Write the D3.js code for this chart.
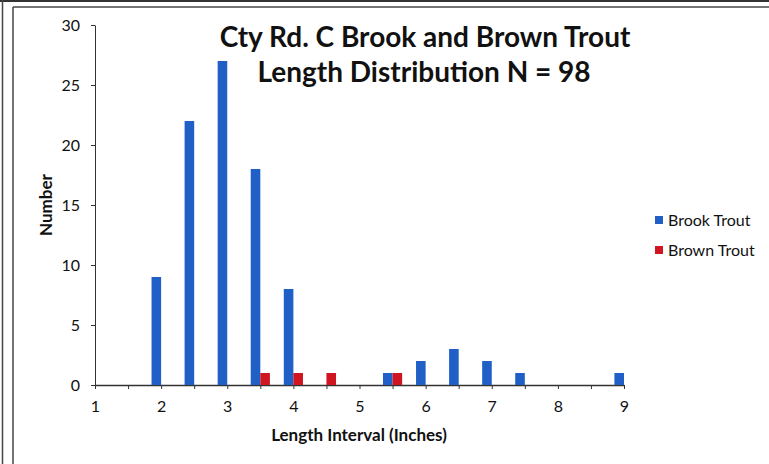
<!DOCTYPE html>
<html>
<head>
<meta charset="utf-8">
<script src="https://cdn.jsdelivr.net/npm/d3@7"></script>
<style>
  html, body { margin: 0; padding: 0; background: #fff; }
  svg { display: block; }
</style>
</head>
<body>
<svg id="chart" width="769" height="464"></svg>
<script>
// Data
const brookIntervals = [2, 2.5, 3, 3.5, 4, 5.5, 6, 6.5, 7, 7.5, 9];
const brookCounts    = [9, 22, 27, 18, 8, 1, 2, 3, 2, 1, 1];
const brownIntervals = [3.5, 4, 4.5, 5.5];
const brownCounts    = [1, 1, 1, 1];
const xTickValues = [1, 1.5, 2, 2.5, 3, 3.5, 4, 4.5, 5, 5.5, 6, 6.5, 7, 7.5, 8, 8.5, 9];
const xTickLabels = [1, 2, 3, 4, 5, 6, 7, 8, 9];
const yTickValues = [0, 5, 10, 15, 20, 25, 30];
const seriesNames = ["Brook Trout", "Brown Trout"];
const seriesColors = ["#1f5fc6", "#cf1422"];
const titleLines = ["Cty Rd. C Brook and Brown Trout", "Length Distribution N = 98"];

const svg = d3.select("#chart");
const FONT = "Lato, 'Open Sans', sans-serif";

// Frame
svg.append("rect").attr("x", 0).attr("y", 0).attr("width", 769).attr("height", 2).attr("fill", "#333");
svg.append("line").attr("x1", 2.5).attr("x2", 2.5).attr("y1", 0).attr("y2", 464).attr("stroke", "#444").attr("stroke-width", 1.5);
svg.append("line").attr("x1", 13).attr("x2", 769).attr("y1", 7).attr("y2", 7).attr("stroke", "#444").attr("stroke-width", 1.5);
svg.append("line").attr("x1", 13).attr("x2", 13).attr("y1", 7).attr("y2", 464).attr("stroke", "#444").attr("stroke-width", 1.5);

const x = d3.scaleLinear().domain([1, 9]).range([95, 624]);
const y = d3.scaleLinear().domain([0, 30]).range([385, 25]);
const bw = x(1.145) - x(1);

// Y axis
const yAxis = d3.axisLeft(y).tickValues(yTickValues).tickSize(4).tickSizeOuter(0);
const gy = svg.append("g").attr("transform", `translate(${x(1)},0)`).call(yAxis);
gy.select(".domain").attr("stroke", "#333").attr("stroke-width", 1);
gy.selectAll(".tick line").attr("stroke", "#333");
gy.selectAll(".tick text").attr("font-family", FONT).attr("font-size", 16).attr("fill", "#111").attr("x", -15);

// X axis
const xAxis = d3.axisBottom(x).tickValues(xTickValues).tickSize(4).tickSizeOuter(0)
  .tickFormat(d => xTickLabels.includes(d) ? d3.format("d")(d) : "");
const gx = svg.append("g").attr("transform", `translate(0,${y(0)})`).call(xAxis);
gx.select(".domain").attr("stroke", "#333").attr("stroke-width", 1.5);
gx.selectAll(".tick line").attr("stroke", "#333");
gx.selectAll(".tick text").attr("font-family", FONT).attr("font-size", 16).attr("fill", "#111").attr("y", 16).attr("dy", "0.71em");

// Bars
svg.append("g").selectAll("rect").data(brookIntervals).join("rect")
  .attr("x", d => x(d) - bw)
  .attr("y", (d, i) => y(brookCounts[i]))
  .attr("width", bw)
  .attr("height", (d, i) => y(0) - y(brookCounts[i]))
  .attr("fill", seriesColors[0]);

svg.append("g").selectAll("rect").data(brownIntervals).join("rect")
  .attr("x", d => x(d))
  .attr("y", (d, i) => y(brownCounts[i]))
  .attr("width", bw)
  .attr("height", (d, i) => y(0) - y(brownCounts[i]))
  .attr("fill", seriesColors[1]);

// Title
svg.append("text").attr("x", 425).attr("y", 47).attr("text-anchor", "middle")
  .attr("font-family", FONT).attr("font-weight", "bold").attr("font-size", 28).attr("fill", "#111")
  .text(titleLines[0]);
svg.append("text").attr("x", 424).attr("y", 82).attr("text-anchor", "middle")
  .attr("font-family", FONT).attr("font-weight", "bold").attr("font-size", 28).attr("fill", "#111")
  .text(titleLines[1]);

// Axis titles
svg.append("text").attr("x", 359).attr("y", 441).attr("text-anchor", "middle")
  .attr("font-family", FONT).attr("font-weight", "bold").attr("font-size", 17).attr("fill", "#111")
  .text("Length Interval (Inches)");
svg.append("text").attr("transform", "translate(52,205) rotate(-90)").attr("text-anchor", "middle")
  .attr("font-family", FONT).attr("font-weight", "bold").attr("font-size", 17).attr("fill", "#111")
  .text("Number");

// Legend
const lg = svg.append("g").attr("transform", "translate(655,212)");
seriesNames.forEach((name, i) => {
  const row = lg.append("g").attr("transform", `translate(0,${i * 30})`);
  row.append("rect").attr("x", 0).attr("y", 4).attr("width", 8).attr("height", 8).attr("fill", seriesColors[i]);
  row.append("text").attr("x", 13).attr("y", 14).attr("font-family", FONT).attr("font-size", 16).attr("fill", "#111").text(name);
});
</script>
</body>
</html>
